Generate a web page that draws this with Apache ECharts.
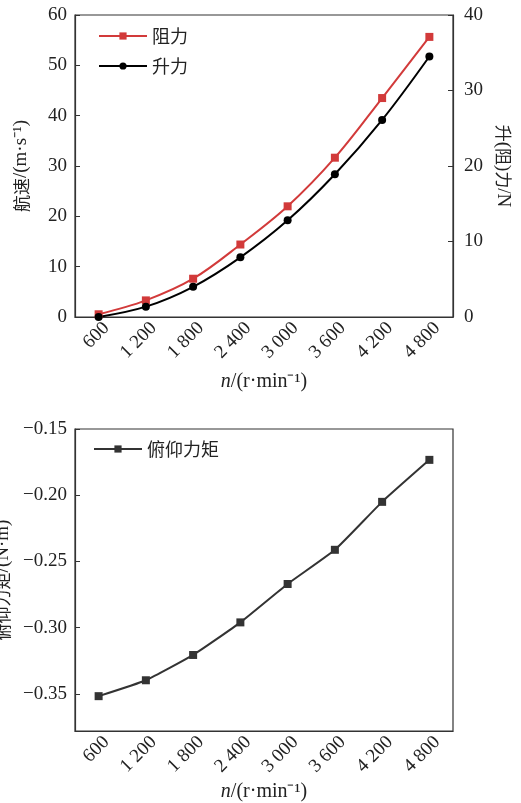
<!DOCTYPE html>
<html><head><meta charset="utf-8">
<script src="https://cdn.jsdelivr.net/npm/echarts@6/dist/echarts.min.js"></script>
<style>html,body{margin:0;padding:0;background:#fff}#c{width:521px;height:803px}</style>
</head><body><div id="c"></div>
<script>
const categories = ['600','1 200','1 800','2 400','3 000','3 600','4 200','4 800'];
const dragN = [0.36, 2.2, 5.07, 9.6, 14.66, 21.1, 29.0, 37.1];
const liftN = [0, 1.37, 4.0, 7.9, 12.8, 18.9, 26.1, 34.5];
const pitchMoment = [-0.3517, -0.3397, -0.3206, -0.296, -0.267, -0.2412, -0.205, -0.1733];
const pitchTicks = [-0.35, -0.30, -0.25, -0.20, -0.15];

const FF = "'Liberation Serif','Noto Sans CJK SC',serif";
const CJK = "'Noto Sans CJK SC',sans-serif";
const AX = '#333';
const TC = '#222';
const chart = echarts.init(document.getElementById('c'), null, {renderer: 'canvas'});

const nameRich = {
  c: {fontFamily: CJK, fontSize: 17, color: TC},
  i: {fontStyle: 'italic', fontFamily: FF, fontSize: 20, color: TC}
};

function catAxis(gridIndex, nameGap) {
  return {
    type: 'category', gridIndex, data: categories, boundaryGap: true,
    name: '{i|n}/(r·min⁻¹)', nameLocation: 'middle', nameGap,
    nameTextStyle: {fontFamily: FF, fontSize: 20, color: TC, rich: nameRich},
    axisLine: {lineStyle: {color: AX, width: 1.2}},
    axisTick: {alignWithLabel: true, inside: true, length: 5, lineStyle: {color: AX}},
    axisLabel: {rotate: 45, margin: 16, padding: [0, -11, 0, 0], fontFamily: FF, fontSize: 19, color: TC},
    splitLine: {show: false}
  };
}

function yName(txt) { return txt; }

const option = {
  backgroundColor: '#fff',
  animation: false,
  textStyle: {fontFamily: FF},
  grid: [
    {left: 75, right: 68, top: 15, height: 302, show: true, borderColor: AX, borderWidth: 1.2,
     backgroundColor: 'transparent', outerBoundsMode: 'none', containLabel: false},
    {left: 75, right: 68, top: 429, height: 302, show: true, borderColor: AX, borderWidth: 1.2,
     backgroundColor: 'transparent', outerBoundsMode: 'none', containLabel: false}
  ],
  legend: [
    {data: ['阻力', '升力'], orient: 'vertical', left: 93, top: 22, itemGap: 12,
     itemWidth: 48, itemHeight: 9, textStyle: {fontFamily: CJK, fontSize: 18, color: TC}},
    {data: ['俯仰力矩'], orient: 'vertical', left: 88, top: 435,
     itemWidth: 48, itemHeight: 9, textStyle: {fontFamily: CJK, fontSize: 18, color: TC}}
  ],
  xAxis: [catAxis(0, 55), catAxis(1, 51)],
  yAxis: [
    {type: 'value', gridIndex: 0, min: 0, max: 60, interval: 10, position: 'left',
     name: '{c|航速}/(m·s⁻¹)', nameLocation: 'middle', nameGap: 44, nameRotate: 90,
     nameTextStyle: {fontFamily: FF, fontSize: 19, color: TC, rich: nameRich},
     axisLine: {show: true, lineStyle: {color: AX, width: 1.2}},
     axisTick: {show: true, inside: true, length: 5, lineStyle: {color: AX}},
     axisLabel: {margin: 8, fontFamily: FF, fontSize: 19, color: TC},
     splitLine: {show: false}},
    {type: 'value', gridIndex: 0, min: 0, max: 40, interval: 10, position: 'right',
     name: '{c|升}({c|阻}){c|力}/N', nameLocation: 'middle', nameGap: 40, nameRotate: -90,
     nameTextStyle: {fontFamily: FF, fontSize: 19, color: TC, rich: nameRich},
     axisLine: {show: true, lineStyle: {color: AX, width: 1.2}},
     axisTick: {show: true, inside: true, length: 5, lineStyle: {color: AX}},
     axisLabel: {margin: 11, fontFamily: FF, fontSize: 19, color: TC},
     splitLine: {show: false}},
    {type: 'value', gridIndex: 1, min: -0.378, max: -0.15, position: 'left',
     name: '{c|俯仰力矩}/(N·m)', nameLocation: 'middle', nameGap: 60, nameRotate: 90,
     nameTextStyle: {fontFamily: FF, fontSize: 19, color: TC, rich: nameRich},
     axisLine: {show: true, lineStyle: {color: AX, width: 1.2}},
     axisTick: {show: true, inside: true, length: 5, customValues: pitchTicks, lineStyle: {color: AX}},
     axisLabel: {margin: 8, fontFamily: FF, fontSize: 19, color: TC, customValues: pitchTicks,
       formatter: v => (v < 0 ? '−' : '') + Math.abs(v).toFixed(2)},
     splitLine: {show: false}}
  ],
  series: [
    {name: '阻力', type: 'line', xAxisIndex: 0, yAxisIndex: 1, data: dragN, smooth: 0.35,
     symbol: 'rect', symbolSize: 8, itemStyle: {color: '#d23a3a'}, lineStyle: {color: '#d23a3a', width: 2}},
    {name: '升力', type: 'line', xAxisIndex: 0, yAxisIndex: 1, data: liftN, smooth: 0.35,
     symbol: 'circle', symbolSize: 8, itemStyle: {color: '#000'}, lineStyle: {color: '#000', width: 2}},
    {name: '俯仰力矩', type: 'line', xAxisIndex: 1, yAxisIndex: 2, data: pitchMoment, smooth: 0.15,
     symbol: 'rect', symbolSize: 8, itemStyle: {color: '#333'}, lineStyle: {color: '#333', width: 2}}
  ]
};
chart.setOption(option);
</script>
</body></html>
